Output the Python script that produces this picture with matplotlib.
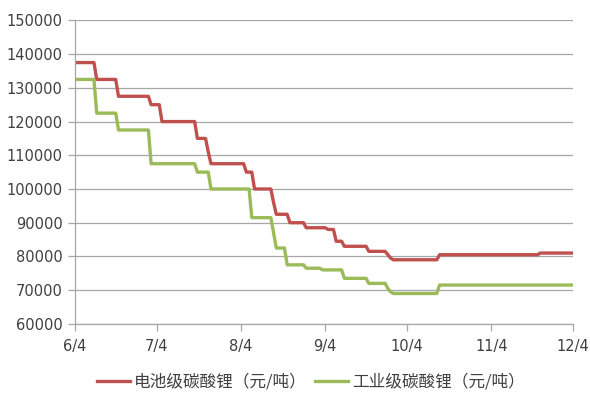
import matplotlib
matplotlib.use("Agg")
import matplotlib.pyplot as plt
import pandas as pd

plt.rcParams['font.family'] = ['Noto Sans CJK SC', 'DejaVu Sans']

# Price change points (date, yuan/ton); the price holds until the next change
battery_dates = ["2018-06-04", "2018-06-12", "2018-06-20", "2018-07-02", "2018-07-06",
                 "2018-07-19", "2018-07-23", "2018-07-24", "2018-08-06", "2018-08-09",
                 "2018-08-16", "2018-08-17", "2018-08-22", "2018-08-28", "2018-09-05",
                 "2018-09-08", "2018-09-11", "2018-09-20", "2018-09-27", "2018-09-28",
                 "2018-09-29", "2018-10-16", "2018-11-22"]
battery_prices = [137500, 132500, 127500, 125000, 120000,
                  115000, 111000, 107500, 105000, 100000,
                  96000, 92500, 90000, 88500, 88000,
                  84500, 83000, 81500, 80500, 79500,
                  79000, 80500, 81000]

industrial_dates = ["2018-06-04", "2018-06-12", "2018-06-20", "2018-07-02", "2018-07-19",
                    "2018-07-24", "2018-08-08", "2018-08-16", "2018-08-17", "2018-08-21",
                    "2018-08-28", "2018-09-03", "2018-09-11", "2018-09-20", "2018-09-27",
                    "2018-09-28", "2018-09-29", "2018-10-16"]
industrial_prices = [132500, 122500, 117500, 107500, 105000,
                     100000, 91500, 87000, 82500, 77500,
                     76500, 76000, 73500, 72000, 70500,
                     69500, 69000, 71500]

start_date = "2018-06-04"
end_date = "2018-12-04"

tick_dates = ["2018-06-04", "2018-07-04", "2018-08-04", "2018-09-04",
              "2018-10-04", "2018-11-04", "2018-12-04"]
tick_labels = ["6/4", "7/4", "8/4", "9/4", "10/4", "11/4", "12/4"]

y_ticks = list(range(60000, 150001, 10000))

series_names = ["电池级碳酸锂（元/吨）", "工业级碳酸锂（元/吨）"]
colors = ["#C0504D", "#9BBB59"]


def daily(dates, prices):
    s = pd.Series(prices, index=pd.to_datetime(dates))
    idx = pd.date_range(start_date, end_date, freq="D")
    return s.reindex(idx).ffill()


battery = daily(battery_dates, battery_prices)
industrial = daily(industrial_dates, industrial_prices)

fig = plt.figure(figsize=(5.9, 3.93), dpi=100)
ax = fig.add_axes([0.127, 0.176, 0.844, 0.772])

for s, name, c in zip([battery, industrial], series_names, colors):
    ax.plot(s.index, s.values, color=c, lw=2.4, label=name, solid_joinstyle="round")

ax.set_xlim(pd.Timestamp(start_date), pd.Timestamp(end_date))
ax.set_ylim(60000, 150000)
ax.set_yticks(y_ticks)
ax.set_yticklabels([str(v) for v in y_ticks], family="DejaVu Sans")
ax.set_xticks(pd.to_datetime(tick_dates))
ax.set_xticklabels(tick_labels, family="DejaVu Sans")

ax.grid(axis="y", color="#A6A6A6", lw=0.9)
ax.set_axisbelow(True)
for side in ["top", "right"]:
    ax.spines[side].set_visible(False)
for side in ["left", "bottom"]:
    ax.spines[side].set_color("#A6A6A6")
    ax.spines[side].set_linewidth(0.9)

ax.tick_params(axis="both", colors="#A6A6A6", labelcolor="#404040",
               labelsize=10.5, length=5, width=0.9)
ax.tick_params(axis="x", pad=6)
ax.tick_params(axis="y", pad=4)

leg = fig.legend(loc="center", bbox_to_anchor=(0.527, 0.028), ncol=2,
                 frameon=False, fontsize=12, handlelength=2.0, handletextpad=0.25,
                 columnspacing=0.5)
for t in leg.get_texts():
    t.set_color("#404040")

fig.savefig("out.png", dpi=100)
